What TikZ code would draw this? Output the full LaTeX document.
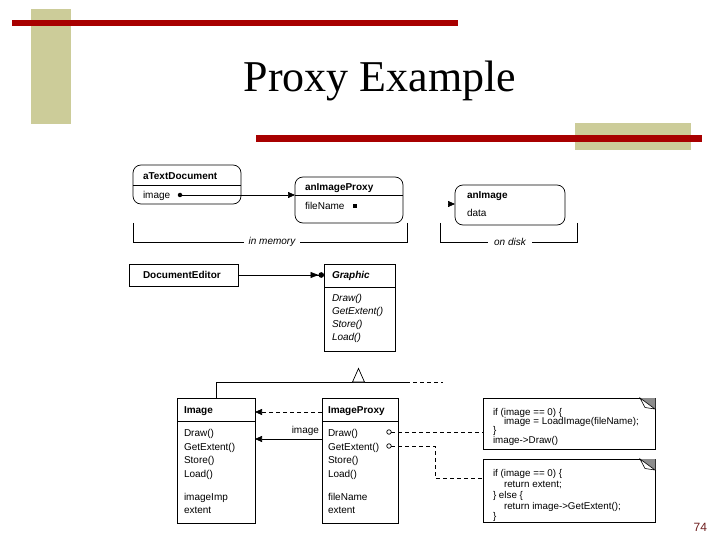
\documentclass[tikz,border=0pt]{standalone}
\usepackage{fontspec}
\setmainfont{Liberation Serif}
\newfontfamily\uisans{Liberation Sans}
\usetikzlibrary{arrows.meta,calc}
\definecolor{tanc}{RGB}{204,204,153}
\definecolor{barred}{RGB}{168,0,0}
\definecolor{pgnum}{RGB}{110,30,30}
\begin{document}
\begin{tikzpicture}[x=1pt,y=-1pt,
  every node/.style={inner sep=0pt, outer sep=0pt},
  ui/.style={font=\uisans\fontsize{10}{12}\selectfont},
  uib/.style={font=\uisans\bfseries\fontsize{10}{12}\selectfont},
  uii/.style={font=\uisans\itshape\fontsize{10}{12}\selectfont},
  uibi/.style={font=\uisans\bfseries\itshape\fontsize{10}{12}\selectfont},
  notefont/.style={font=\uisans\fontsize{9.8}{11}\selectfont},
  lw/.style={line width=0.7pt},
  objbox/.style={draw, rounded corners=8pt, line width=0.7pt, anchor=north west},
  clsbox/.style={draw, line width=0.7pt, anchor=north west},
  notebox/.style={draw, line width=0.7pt, anchor=north west, fill=white},
  arrowtri/.style={-{Triangle[length=7pt,width=6pt]}},
  dashline/.style={dash pattern=on 4pt off 3pt},
  foldgrey/.style={fill=black!45},
  foldflap/.style={draw, fill=white, line width=0.6pt}]

% background / bounding box
\fill[white] (0,0) rectangle (720,540);
\useasboundingbox (0,0) rectangle (720,540);

% slide decorations
\fill[tanc] (31,9) rectangle (71,124);
\fill[barred] (12,20) rectangle (458,26);
\fill[tanc] (575,123) rectangle (691,150);
\fill[barred] (256,135) rectangle (702,142);

% title
\node[font=\fontsize{44}{50}\selectfont, anchor=base] (title) at (380,92) {Proxy Example};

% ---------------- object diagram ----------------
\node[objbox, minimum width=108pt, minimum height=39pt] (atd) at (133,165) {};
\draw[lw] (133,185) -- (241,185);
\node[uib, anchor=base west] (atdname) at (143,179.5) {aTextDocument};
\node[ui, anchor=base west] (atdimg) at (143,198.5) {image};
\node[circle, fill, minimum size=4.5pt] (imgdot) at (180,195) {};

\node[objbox, minimum width=108pt, minimum height=46pt] (proxyobj) at (295,177) {};
\draw[lw] (295,195) -- (403,195);
\node[uib, anchor=base west] (proxyname) at (305,190.5) {anImageProxy};
\node[ui, anchor=base west] (proxyfile) at (305,209.5) {fileName};
\node[fill, minimum size=4pt] (filesq) at (355,206) {};

\node[objbox, minimum width=110pt, minimum height=40pt] (imgobj) at (455,185) {};
\node[uib, anchor=base west] (imgobjname) at (467,198.5) {anImage};
\node[ui, anchor=base west] (imgobjdata) at (467,216.5) {data};

\draw[lw, arrowtri] (imgdot.center) -- (proxyobj.west |- imgdot);
\coordinate (fnarrow) at (448,204);
\draw[lw, arrowtri] (fnarrow) -- (imgobj.west |- fnarrow);

% brackets
\node[uii, inner xsep=5pt] (inmem) at (272,242) {in memory};
\draw[lw] (133,223) |- (inmem.west);
\draw[lw] (407,223) |- (inmem.east);
\node[uii, inner xsep=6pt] (ondisk) at (510,242) {on disk};
\draw[lw] (440,223) |- (ondisk.west);
\draw[lw] (577,223) |- (ondisk.east);

% ---------------- class diagram ----------------
\node[clsbox, minimum width=109pt, minimum height=22pt] (de) at (129,264) {};
\node[uib, anchor=base west] (dename) at (143,278.5) {DocumentEditor};

\node[clsbox, minimum width=71pt, minimum height=23pt] (ghead) at (324,264) {};
\node[clsbox, minimum width=71pt, minimum height=64pt] (gbody) at (324,287) {};
\node[uibi, anchor=base west] (gname) at (332,278.5) {Graphic};
\node[uii, anchor=base west] (g1) at (332,301.5) {Draw()};
\node[uii, anchor=base west] (g2) at (332,314.4) {GetExtent()};
\node[uii, anchor=base west] (g3) at (332,327.3) {Store()};
\node[uii, anchor=base west] (g4) at (332,340.2) {Load()};

\draw[lw, -{Triangle[length=8pt,width=6pt]Circle[length=5.5pt]}] (de.east) -- (ghead.west |- de.east);

% Image class
\node[clsbox, minimum width=78pt, minimum height=23pt] (imghead) at (177,398) {};
\node[clsbox, minimum width=78pt, minimum height=102pt] (imgbody) at (177,421) {};
\node[uib, anchor=base west] (imgname) at (184,413.5) {Image};
\node[ui, anchor=base west] (i1) at (184,436.5) {Draw()};
\node[ui, anchor=base west] (i2) at (184,450.2) {GetExtent()};
\node[ui, anchor=base west] (i3) at (184,463.8) {Store()};
\node[ui, anchor=base west] (i4) at (184,477.5) {Load()};
\node[ui, anchor=base west] (i5) at (184,500.5) {imageImp};
\node[ui, anchor=base west] (i6) at (184,513.5) {extent};

% ImageProxy class
\node[clsbox, minimum width=76pt, minimum height=23pt] (pxhead) at (322,398) {};
\node[clsbox, minimum width=76pt, minimum height=102pt] (pxbody) at (322,421) {};
\node[uib, anchor=base west] (pxname) at (328,413.5) {ImageProxy};
\node[ui, anchor=base west] (p1) at (328,436.5) {Draw()};
\node[ui, anchor=base west] (p2) at (328,450.2) {GetExtent()};
\node[ui, anchor=base west] (p3) at (328,463.8) {Store()};
\node[ui, anchor=base west] (p4) at (328,477.5) {Load()};
\node[ui, anchor=base west] (p5) at (328,500.5) {fileName};
\node[ui, anchor=base west] (p6) at (328,513.5) {extent};

% inheritance
\coordinate (hjoin) at (406,382);
\coordinate (hend) at (443,382);
\draw[lw] (imghead.north) |- (hjoin);
\draw[lw, dashline] (hjoin) -- (hend);
\draw[lw, fill=white] (352.5,382) -- (358.5,368.5) -- (364.5,382) -- cycle;

% proxy -> image connectors
\coordinate (dashy) at (0,412);
\draw[lw, dashline, arrowtri] (pxhead.west |- dashy) -- (imghead.east |- dashy);
\coordinate (imgliney) at (0,439);
\draw[lw, arrowtri] (pxbody.west |- imgliney) -- (imgbody.east |- imgliney)
  node[ui, pos=0, anchor=base east, xshift=-3pt, yshift=6pt] (imglabel) {image};

% notes
\node[notebox, minimum width=172pt, minimum height=51pt] (note1) at (483,398) {};
\fill[foldgrey] (640,398) -- (655.35,398) -- (655.35,409) -- cycle;
\path[foldflap] (640,398) -- (645,407.5) -- (655,409) -- cycle;
\node[notefont, anchor=base west] (n1a) at (493,415) {if (image == 0) \{};
\node[notefont, anchor=base west] (n1b) at (504,424.5) {image = LoadImage(fileName);};
\node[notefont, anchor=base west] (n1c) at (493,433.5) {\}};
\node[notefont, anchor=base west] (n1d) at (493,443.5) {image->Draw()};

\node[notebox, minimum width=172pt, minimum height=63pt] (note2) at (483,459) {};
\fill[foldgrey] (640,459) -- (655.35,459) -- (655.35,470) -- cycle;
\path[foldflap] (640,459) -- (645,468.5) -- (655,470) -- cycle;
\node[notefont, anchor=base west] (n2a) at (493,476.5) {if (image == 0) \{};
\node[notefont, anchor=base west] (n2b) at (504,487.5) {return extent;};
\node[notefont, anchor=base west] (n2c) at (493,498.5) {\} else \{};
\node[notefont, anchor=base west] (n2d) at (504,509.5) {return image->GetExtent();};
\node[notefont, anchor=base west] (n2e) at (493,519) {\}};

% markers and dashed links to notes
\node[circle, draw, lw, fill=white, minimum size=4.5pt] (mk1) at (389,432) {};
\node[circle, draw, lw, fill=white, minimum size=4.5pt] (mk2) at (389,446) {};
\draw[lw, dashline] (mk1.east) -- (note1.west |- mk1);
\coordinate (bend) at (435,478);
\draw[lw, dashline] (mk2.east) -| (bend) -- (note2.west |- bend);

% page number
\node[font=\uisans\fontsize{12}{14}\selectfont, text=pgnum, anchor=base east] (pgno) at (707,531) {74};
\end{tikzpicture}
\end{document}
